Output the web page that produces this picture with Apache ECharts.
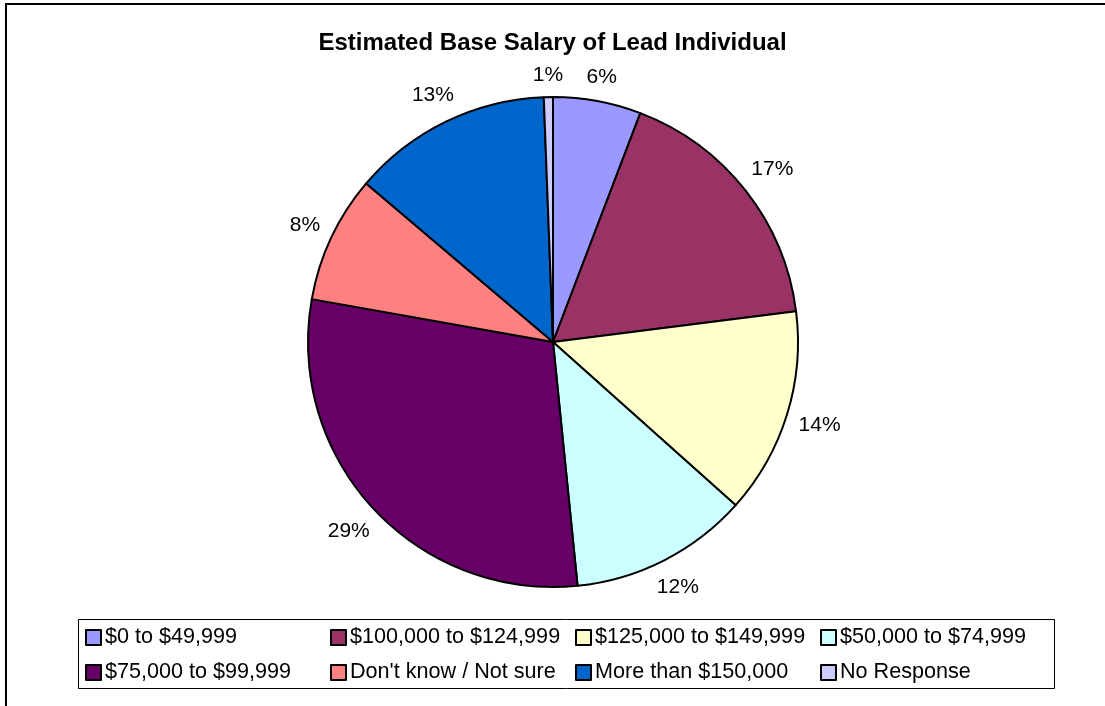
<!DOCTYPE html>
<html>
<head>
<meta charset="utf-8">
<script src="https://cdn.jsdelivr.net/npm/echarts@6/dist/echarts.min.js"></script>
<style>
  html, body { margin: 0; padding: 0; background: #fff; }
  #chart { width: 1105px; height: 706px; }
</style>
</head>
<body>
<div id="chart"></div>
<script>
// salary bands, clockwise from 12 o'clock
const categories = [
  '$0 to $49,999',
  '$100,000 to $124,999',
  '$125,000 to $149,999',
  '$50,000 to $74,999',
  '$75,000 to $99,999',
  "Don't know / Not sure",
  'More than $150,000',
  'No Response'
];
const shares = [5.8, 17.2, 13.6, 11.8, 29.4, 8.4, 13.2, 0.6];
const colors = ['#9999FF', '#993366', '#FFFFCC', '#CCFFFF', '#660066', '#FF8080', '#0066CC', '#CCCCFF'];

const chart = echarts.init(document.getElementById('chart'));
const font = 'Arial, "Liberation Sans", sans-serif';

const pieCenter = [553, 342];
const pieRadius = 245;
const labelGap = 11;

// mid angle of each slice (clockwise from top) so labels sit just off the rim like Excel does
const total = shares.reduce((a, b) => a + b, 0);
let acc = 0;
const midAngles = shares.map((v) => {
  const mid = (acc + v / 2) / total * Math.PI * 2;
  acc += v;
  return mid;
});

chart.setOption({
  animation: false,
  backgroundColor: '#fff',
  color: colors,
  title: {
    text: 'Estimated Base Salary of Lead Individual',
    left: 'center',
    top: 26,
    textStyle: { fontFamily: font, fontSize: 24, fontWeight: 'bold', color: '#000' }
  },
  legend: {
    left: 85,
    top: 625,
    width: 1000,
    orient: 'horizontal',
    icon: 'rect',
    itemWidth: 15,
    itemHeight: 15,
    itemGap: 10,
    padding: 0,
    itemStyle: { borderColor: '#000', borderWidth: 2 },
    textStyle: { fontFamily: font, fontSize: 21.6, color: '#000', width: 215, lineHeight: 25, padding: [0, 0, 0, -1] },
    data: categories
  },
  graphic: [
    // outer chart frame (only top and left visible)
    { type: 'rect', shape: { x: 6, y: 4, width: 1300, height: 900 }, style: { fill: 'none', stroke: '#000', lineWidth: 2 }, z: 10 },
    // legend box
    { type: 'rect', shape: { x: 78.5, y: 619.5, width: 976, height: 69 }, style: { fill: 'none', stroke: '#000', lineWidth: 1 }, z: 10 }
  ],
  series: [{
    type: 'pie',
    center: pieCenter,
    radius: pieRadius,
    startAngle: 90,
    clockwise: true,
    avoidLabelOverlap: false,
    minShowLabelAngle: 0,
    itemStyle: { borderColor: '#000', borderWidth: 2 },
    emphasis: { disabled: true },
    label: {
      show: true,
      position: 'outside',
      fontFamily: font,
      fontSize: 21,
      color: '#000',
      formatter: (p) => Math.round(p.percent) + '%'
    },
    labelLine: { show: false, length: 14, length2: 0 },
    labelLayout: (params) => {
      const a = midAngles[params.dataIndex];
      const ux = Math.sin(a), uy = -Math.cos(a);
      const w = params.labelRect.width, h = params.labelRect.height;
      const d = pieRadius + labelGap + (Math.abs(ux) * w + Math.abs(uy) * h) / 2;
      return {
        x: pieCenter[0] + ux * d,
        y: pieCenter[1] + uy * d,
        align: 'center',
        verticalAlign: 'middle'
      };
    },
    data: categories.map((name, i) => ({ name, value: shares[i] }))
  }]
});
</script>
</body>
</html>
